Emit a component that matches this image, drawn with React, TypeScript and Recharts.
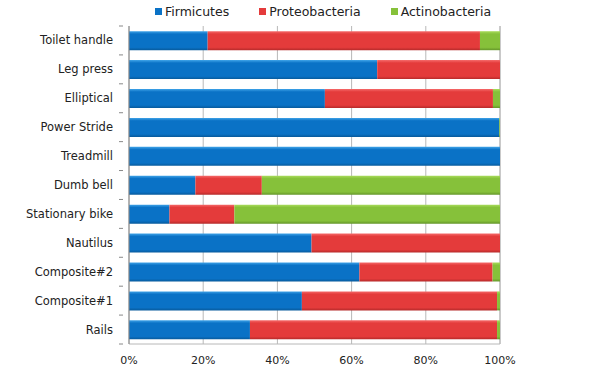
import React from 'react';
import { BarChart, Bar, XAxis, YAxis, CartesianGrid, Legend } from 'recharts';

const categories = ['Toilet handle', 'Leg press', 'Elliptical', 'Power Stride', 'Treadmill', 'Dumb bell', 'Stationary bike', 'Nautilus', 'Composite#2', 'Composite#1', 'Rails'];
const firmicutes = [21.2, 66.9, 52.8, 99.8, 100, 17.9, 10.9, 49.2, 62.1, 46.6, 32.6];
const proteobacteria = [73.4, 33.1, 45.3, 0, 0, 17.9, 17.5, 50.8, 35.9, 52.6, 66.6];
const actinobacteria = [5.4, 0, 1.9, 0.2, 0, 64.2, 71.6, 0, 2.0, 0.8, 0.8];
const xTicks = [0, 20, 40, 60, 80, 100];

const series = [
  { key: 'Firmicutes', values: firmicutes, color: '#0a72c6', light: '#3fa3e8', dark: '#075a9c' },
  { key: 'Proteobacteria', values: proteobacteria, color: '#e43b3b', light: '#f56a6a', dark: '#b52a2a' },
  { key: 'Actinobacteria', values: actinobacteria, color: '#86c13a', light: '#a9dc5c', dark: '#64962a' },
];

const data = categories.map((c, i) => {
  const row: any = { name: c };
  series.forEach((s) => (row[s.key] = s.values[i]));
  return row;
});

const font = '"DejaVu Sans", Verdana, sans-serif';
const TICK_MARGIN = 10;

const YTick = (props: any) => {
  const { x, y, payload } = props;
  const off = payload && payload.offset ? payload.offset : 0;
  const ax = x + TICK_MARGIN;
  return (
    <g>
      <line x1={ax - 4} x2={ax} y1={y - off} y2={y - off} stroke="#888" />
      {payload.index === categories.length - 1 && (
        <line x1={ax - 4} x2={ax} y1={y + off} y2={y + off} stroke="#888" />
      )}
      <text x={x} y={y} dy="0.35em" textAnchor="end" fontFamily={font} fontSize={11.5} fill="#222">
        {payload.value}
      </text>
    </g>
  );
};

const LegendContent = () => (
  <div style={{ display: 'flex', justifyContent: 'flex-start', fontFamily: font, fontSize: 12.5, color: '#222', paddingLeft: 155, height: 16 }}>
    {series.map((s) => (
      <div key={s.key} style={{ display: 'flex', alignItems: 'center', marginRight: 30 }}>
        <div style={{ width: 7, height: 7, background: s.color, marginRight: 3 }} />
        <span>{s.key}</span>
      </div>
    ))}
  </div>
);

export default function App() {
  return (
    <div style={{ position: 'absolute', left: 0, top: 0, background: '#fff' }}>
      <BarChart
        width={604}
        height={376}
        data={data}
        layout="vertical"
        margin={{ top: 10, right: 104, bottom: 12, left: 0 }}
        barCategoryGap="18%"
      >
        <defs>
          {series.map((s) => (
            <linearGradient key={s.key} id={`g-${s.key}`} x1="0" y1="0" x2="0" y2="1">
              <stop offset="0%" stopColor={s.light} />
              <stop offset="15%" stopColor={s.color} />
              <stop offset="85%" stopColor={s.color} />
              <stop offset="100%" stopColor={s.dark} />
            </linearGradient>
          ))}
        </defs>
        <CartesianGrid horizontal={false} stroke="#b8b8b8" />
        <XAxis
          type="number"
          domain={[0, 100]}
          ticks={xTicks}
          tickFormatter={(v) => `${v}%`}
          axisLine={{ stroke: '#b8b8b8' }}
          tickLine={false}
          tick={{ fontFamily: font, fontSize: 11, fill: '#222' }}
          tickMargin={6}
          height={20}
        />
        <YAxis
          type="category"
          dataKey="name"
          width={129}
          axisLine={{ stroke: '#888' }}
          tickLine={false}
          tickMargin={TICK_MARGIN}
          tick={<YTick />}
          interval={0}
        />
        <Legend verticalAlign="top" align="left" content={<LegendContent />} wrapperStyle={{ top: 3, left: 0, width: 604 }} />
        {series.map((s) => (
          <Bar key={s.key} dataKey={s.key} stackId="a" fill={`url(#g-${s.key})`} isAnimationActive={false} />
        ))}
      </BarChart>
    </div>
  );
}
